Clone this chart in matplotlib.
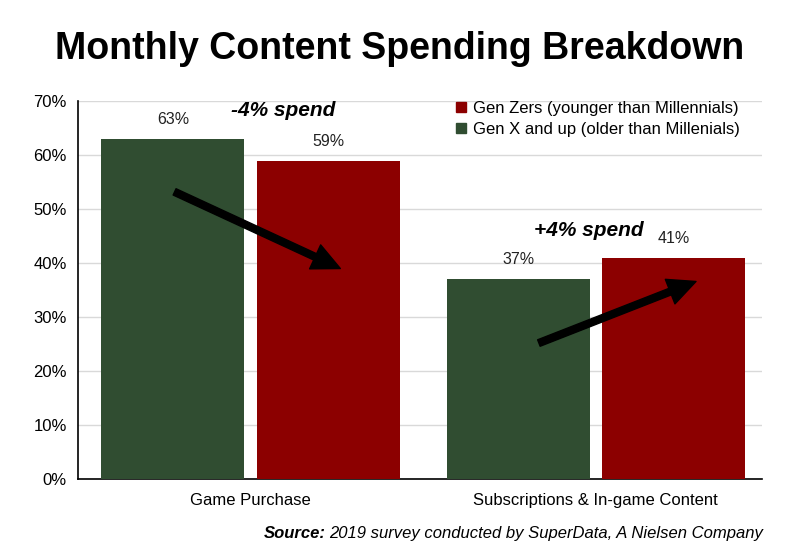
import matplotlib.pyplot as plt
import numpy as np
from matplotlib import font_manager

categories = ['Game Purchase', 'Subscriptions & In-game Content']
gen_x = [63, 37]
gen_z = [59, 41]
series_names = ['Gen Zers (younger than Millennials)', 'Gen X and up (older than Millenials)']
y_ticks = [0, 10, 20, 30, 40, 50, 60, 70]

GREEN = '#304D31'
RED = '#8C0000'

names = {f.name for f in font_manager.fontManager.ttflist}
narrow = 'Liberation Sans Narrow' if 'Liberation Sans Narrow' in names else 'Liberation Sans'
plt.rcParams['font.family'] = ['Liberation Sans', 'DejaVu Sans']

fig = plt.figure(figsize=(7.95, 5.59), dpi=100)
ax = fig.add_axes([0.098, 0.143, 0.86, 0.676])

x = np.arange(len(categories))
w = 0.414
off = 0.225
b_x = ax.bar(x - off, gen_x, w, color=GREEN, zorder=3)
b_z = ax.bar(x + off, gen_z, w, color=RED, zorder=3)

# value labels on top of each bar
for bars, vals in ((b_x, gen_x), (b_z, gen_z)):
    for b, v in zip(bars, vals):
        ax.text(b.get_x() + b.get_width() / 2, v + 2.2, f'{v}%', ha='center', va='bottom',
                fontsize=11.5, color='#222222', family=narrow)

ax.set_xlim(-0.5, 1.48)
ax.set_ylim(0, 70)
ax.set_yticks(y_ticks)
ax.set_yticklabels([f'{t}%' for t in y_ticks], family=narrow, fontsize=12)
ax.set_xticks(x)
ax.set_xticklabels(categories, family=narrow, fontsize=12)
ax.tick_params(length=0, pad=8)
ax.tick_params(axis='x', pad=10)
ax.grid(axis='y', color='#d9d9d9', linewidth=1, zorder=0)
for s in ('top', 'right'):
    ax.spines[s].set_visible(False)
ax.spines['left'].set_linewidth(1.2)
ax.spines['bottom'].set_linewidth(1.2)

# trend arrows
arrow_style = dict(facecolor='black', edgecolor='black', width=5, headwidth=19,
                   headlength=20, shrink=0)
ax.annotate('', xy=(0.26, 39.0), xytext=(-0.22, 53.2), arrowprops=arrow_style, zorder=5)
ax.annotate('', xy=(1.29, 36.6), xytext=(0.835, 25.2), arrowprops=arrow_style, zorder=5)
ax.text(0.095, 68.3, '-4% spend', ha='center', va='center', fontsize=15,
        fontweight='bold', style='italic')
ax.text(0.98, 46.0, '+4% spend', ha='center', va='center', fontsize=15,
        fontweight='bold', style='italic')

handles = [plt.Rectangle((0, 0), 1, 1, color=RED), plt.Rectangle((0, 0), 1, 1, color=GREEN)]
leg = ax.legend(handles, series_names, loc='upper right', bbox_to_anchor=(0.99, 1.04),
                frameon=False, handlelength=0.6, handleheight=0.6, handletextpad=0.4,
                labelspacing=0.35, prop={'family': narrow, 'size': 12})

fig.text(0.503, 0.912, 'Monthly Content Spending Breakdown', ha='center', va='center',
         fontsize=27, fontweight='bold')
src = fig.text(0.96, 0.045, '2019 survey conducted by SuperData, A Nielsen Company', ha='right',
               va='center', fontsize=12, style='italic', family=narrow)
fig.canvas.draw()
bb = src.get_window_extent()
fig.text(bb.x0 / fig.bbox.width - 0.004, 0.045, 'Source:', ha='right', va='center', fontsize=12,
         fontweight='bold', style='italic', family=narrow)

fig.savefig('out.png', dpi=100)
